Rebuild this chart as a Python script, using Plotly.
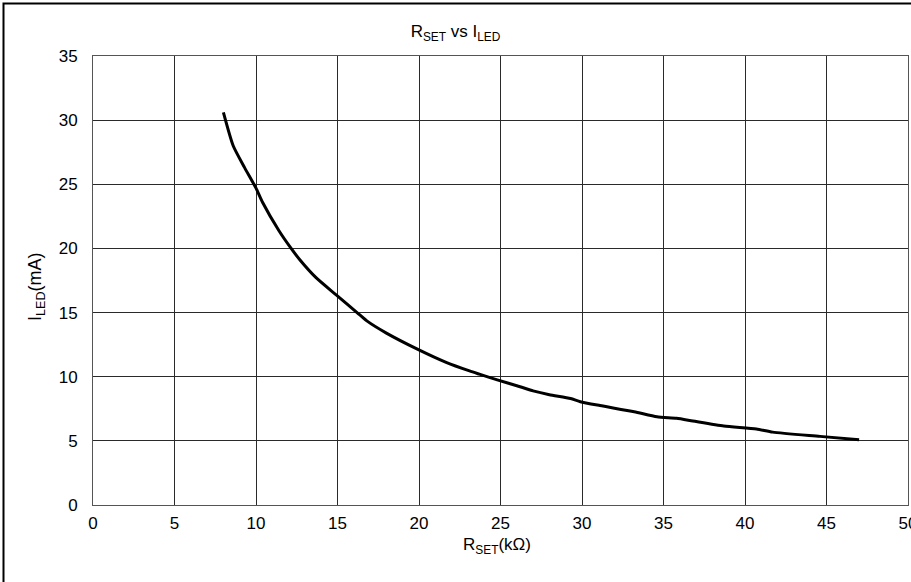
import plotly.graph_objects as go

# R_SET (kOhm) vs I_LED (mA)
rset_kohm = [8.0, 8.6, 9.3, 10.0, 10.4, 11.4, 12.1, 12.7, 13.7, 14.9, 16.2, 16.8, 18.0,
             19.9, 21.7, 23.1, 23.7, 24.8, 26.2, 27.0, 28.0, 29.3, 29.9, 31.1,
             33.2, 34.6, 35.8, 36.8, 38.7, 40.7, 41.7, 44.6, 47.0]
iled_ma = [30.6, 28.0, 26.3, 24.7, 23.6, 21.4, 20.1, 19.1, 17.7, 16.4, 15.0, 14.35, 13.4,
           12.15, 11.1, 10.45, 10.2, 9.75, 9.22, 8.9, 8.6, 8.3, 8.05, 7.75,
           7.27, 6.88, 6.76, 6.55, 6.16, 5.93, 5.68, 5.35, 5.08]

x_ticks = [0, 5, 10, 15, 20, 25, 30, 35, 40, 45, 50]
y_ticks = [0, 5, 10, 15, 20, 25, 30, 35]

FONT = "Arial, Liberation Sans, sans-serif"
W, H = 911, 582
ML, MR, MT, MB = 93, 3, 56, 77
PW, PH = W - ML - MR, H - MT - MB

fig = go.Figure()
fig.add_trace(go.Scatter(x=rset_kohm, y=iled_ma, mode="lines",
                         line=dict(color="black", width=3, shape="spline", smoothing=0.6),
                         showlegend=False, hoverinfo="skip"))

axis_common = dict(showgrid=True, gridcolor="#2a2a2a", gridwidth=1,
                   zeroline=False, ticks="", automargin=False,
                   ticklabeloverflow="allow",
                   tickfont=dict(family=FONT, size=17, color="black"),
                   showline=True, linecolor="#555555", linewidth=1, mirror=True)

fig.update_xaxes(range=[0, 50], tickvals=x_ticks, ticktext=[str(v) for v in x_ticks],
                 ticklabelstandoff=3, **axis_common)
fig.update_yaxes(range=[0, 35], tickvals=y_ticks, ticktext=[str(v) for v in y_ticks],
                 ticklabelstandoff=11, **axis_common)

def px_to_paper_x(px):
    return (px - ML) / PW

def px_to_paper_y(py):
    return (H - MB - py) / PH

fig.update_layout(
    width=W, height=H,
    margin=dict(l=ML, r=MR, t=MT, b=MB, pad=0),
    paper_bgcolor="white", plot_bgcolor="white",
    template="none",
    title=dict(text="R<sub>SET</sub> vs I<sub>LED</sub>", x=0.5, xanchor="center",
               y=1 - 31 / H, yanchor="middle", yref="container",
               font=dict(family=FONT, size=17, color="black")),
    annotations=[
        dict(text="R<sub>SET</sub>(kΩ)", xref="paper", yref="paper",
             x=px_to_paper_x(497), y=px_to_paper_y(546), xanchor="center", yanchor="middle",
             showarrow=False, font=dict(family=FONT, size=17, color="black")),
        dict(text="I<sub>LED</sub>(mA)", xref="paper", yref="paper",
             x=px_to_paper_x(36), y=px_to_paper_y(287), xanchor="center", yanchor="middle",
             textangle=-90, showarrow=False, font=dict(family=FONT, size=18, color="black")),
    ],
    shapes=[
        dict(type="rect", xref="paper", yref="paper", layer="above",
             x0=px_to_paper_x(3.5), x1=px_to_paper_x(920),
             y0=px_to_paper_y(600), y1=px_to_paper_y(3.5),
             line=dict(color="black", width=2), fillcolor="rgba(0,0,0,0)"),
    ],
)

fig.write_html("out.html", config={"displayModeBar": False, "staticPlot": True},
               post_script="document.body.style.margin='0';document.body.style.overflow='hidden';")
